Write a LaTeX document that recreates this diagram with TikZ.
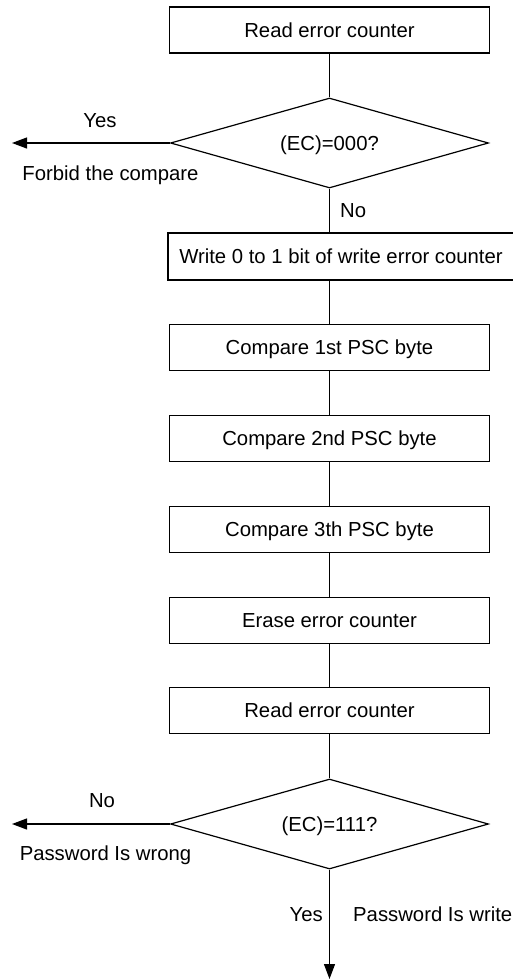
\documentclass[tikz,border=0pt]{standalone}
\usepackage{fontspec}
\setmainfont{Liberation Sans}
\usetikzlibrary{shapes.geometric,arrows.meta}
\begin{document}
\begin{tikzpicture}[x=1pt,y=-1pt,
  txt/.style={font=\fontsize{20.3}{24}\selectfont},
  boxnode/.style={txt,draw,line width=1.3pt,minimum width=320pt,minimum height=46pt,inner sep=0pt,text height=14.6pt,text depth=0pt},
  dec/.style={txt,draw,diamond,aspect=3.53,line width=1.2pt,minimum width=318pt,minimum height=90pt,inner sep=0pt,text height=14.6pt,text depth=0pt},
  lab/.style={txt,inner sep=0pt},
  conn/.style={line width=1.2pt},
  arr/.style={conn,-{Triangle[length=15pt,width=11pt]}}]
\useasboundingbox (0,0) rectangle (513,980);
\node[boxnode] (b1) at (329.5,30) {Read error counter};
\node[dec] (d1) at (329.5,143) {(EC)=000?};
\node[boxnode,minimum width=354pt,minimum height=47pt] (b2) at (345,256.5) {\hspace*{-8pt}Write 0 to 1 bit of write error counter};
\node[boxnode] (b3) at (329.5,347.5) {Compare 1st PSC byte};
\node[boxnode] (b4) at (329.5,438.5) {Compare 2nd PSC byte};
\node[boxnode] (b5) at (329.5,529.5) {Compare 3th PSC byte};
\node[boxnode] (b6) at (329.5,620.5) {Erase error counter};
\node[boxnode] (b7) at (329.5,710.5) {Read error counter};
\node[dec] (d2) at (329.5,824) {(EC)=111?};
\coordinate (e1) at (12,143);
\coordinate (e2) at (12,824);
\coordinate (e3) at (329.5,979);
\node[lab,anchor=base] (l1) at (100,127) {Yes};
\node[lab,anchor=base] (l2) at (110.5,180) {Forbid the compare};
\node[lab,anchor=base west] (l3) at (340,217) {No};
\node[lab,anchor=base] (l4) at (102,807) {No};
\node[lab,anchor=base] (l5) at (105.5,860) {Password Is wrong};
\node[lab,anchor=base east] (l6) at (323,921) {Yes};
\node[lab,anchor=base west] (l7) at (353,921) {Password Is write};
\draw[conn] (b1) -- (d1);
\draw[conn] (d1.south) -- (d1.south |- b2.north);
\draw[conn] (b3.north |- b2.south) -- (b3);
\draw[conn] (b3) -- (b4);
\draw[conn] (b4) -- (b5);
\draw[conn] (b5) -- (b6);
\draw[conn] (b6) -- (b7);
\draw[conn] (b7) -- (d2);
\draw[arr] (d1.west) -- (e1);
\draw[arr] (d2.west) -- (e2);
\draw[arr] (d2.south) -- (e3);
\end{tikzpicture}
\end{document}
